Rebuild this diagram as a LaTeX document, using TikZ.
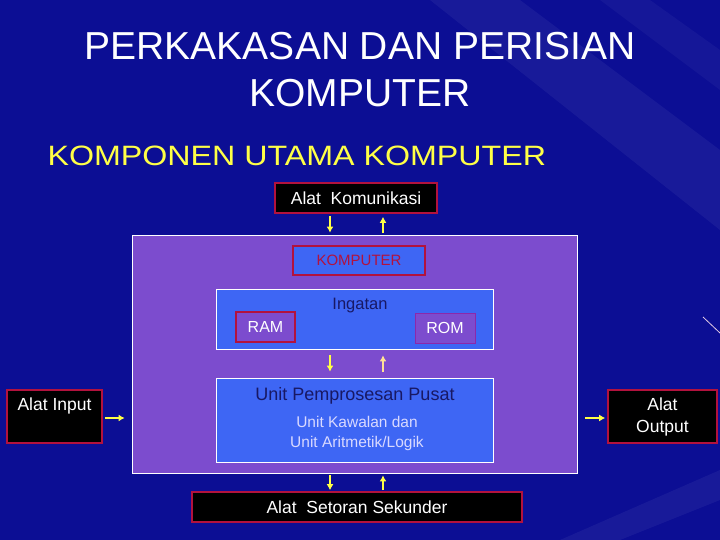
\documentclass[tikz,border=0pt]{standalone}
\usepackage{fontspec}
\setmainfont{Liberation Sans}
\usetikzlibrary{arrows.meta}
\definecolor{bgblue}{RGB}{12,14,148}
\definecolor{slidepurple}{RGB}{124,76,206}
\definecolor{boxblue}{RGB}{62,102,244}
\definecolor{boxred}{RGB}{178,18,62}
\definecolor{navytext}{RGB}{24,24,100}
\definecolor{arrowyellow}{RGB}{255,255,70}
\definecolor{paleyellow}{RGB}{255,225,150}
\definecolor{romborder}{RGB}{140,40,170}

\tikzset{
  blackbox/.style={draw=boxred, line width=1.6pt, fill=black, text=white,
    inner sep=0pt, font=\fontsize{17.5}{22}\selectfont, align=center},
  bluebox/.style={draw=white, line width=0.8pt, fill=boxblue, inner sep=0pt},
  memcell/.style={line width=1.4pt, fill=slidepurple, text=white, font=\fontsize{16}{19}\selectfont,
    minimum width=59pt, minimum height=30pt, inner sep=0pt},
  flowarrow/.style={arrowyellow, line width=1.8pt, -{Latex[length=6pt,width=7pt]}},
}

\begin{document}
\begin{tikzpicture}[x=1pt,y=-1pt]
\useasboundingbox (0,0) rectangle (720,540);
\fill[bgblue] (0,0) rectangle (720,540);
% faint streaks of the slide background
\fill[white, opacity=0.05] (430,0) -- (520,0) -- (720,150) -- (720,230) -- cycle;
\fill[white, opacity=0.04] (600,0) -- (650,0) -- (720,50) -- (720,90) -- cycle;
\fill[white, opacity=0.05] (720,470) -- (560,540) -- (620,540) -- (720,500) -- cycle;
\draw[white!80!violet, line width=0.8pt] (703,317) -- (720,333);

\node[white, font=\fontsize{39}{47}\selectfont, align=center] (title) at (360,70)
  {PERKAKASAN DAN PERISIAN\\KOMPUTER};
\node[arrowyellow, anchor=west, font=\fontsize{28}{32}\selectfont] (subtitle) at (44,156)
  {\scalebox{1.15}[1]{KOMPONEN UTAMA KOMPUTER}};

\node[blackbox, minimum width=162pt, minimum height=30pt] (kom) at (356,198) {Alat\ \ Komunikasi};
\node[draw=white, line width=0.8pt, fill=slidepurple, minimum width=445pt, minimum height=238pt] (komp) at (354.5,354) {};
\node[draw=boxred, line width=1.6pt, fill=boxblue, text=boxred, font=\fontsize{15}{18}\selectfont,
  minimum width=132pt, minimum height=29pt, inner sep=0pt] (kpt) at (359,260.5) {KOMPUTER};

% ingatan
\node[bluebox, minimum width=277pt, minimum height=60pt] (mem) at (354.5,319) {};
\node[navytext, font=\fontsize{16.5}{19}\selectfont] (memtxt) at (360,306) {Ingatan};
\node[memcell, draw=boxred] (ram) at (265.5,327) {RAM};
\node[memcell, draw=romborder, line width=1pt, minimum width=60pt] (rom) at (445,328) {ROM};

% unit pemprosesan pusat
\node[bluebox, minimum width=277pt, minimum height=84pt] (cpu) at (354.5,420) {};
\node[navytext, font=\fontsize{18}{21}\selectfont] (cputxt) at (355,396) {Unit Pemprosesan Pusat};
\node[white!85!blue, font=\fontsize{15.5}{20}\selectfont, align=center] (alutxt) at (357,433)
  {Unit Kawalan dan\\Unit Aritmetik/Logik};

\node[blackbox, minimum width=95pt, minimum height=53pt] (inp) at (54.5,416.5) {};
\node[white, font=\fontsize{17.5}{22}\selectfont] (inptxt) at (54.5,406) {Alat Input};
\node[blackbox, minimum width=109pt, minimum height=53pt] (out) at (662.5,416.5) {Alat\\Output};
\node[blackbox, minimum width=330pt, minimum height=30pt] (sek) at (357,507) {Alat\ \ Setoran Sekunder};

% anak panah
\draw[flowarrow, shorten <=2pt, shorten >=2pt] (kom.south -| 330,0) -- (komp.north -| 330,0);
\draw[flowarrow, shorten <=2pt, shorten >=3pt] (komp.north -| 383,0) -- (kom.south -| 383,0);
\draw[flowarrow, shorten <=6pt, shorten >=6pt] (mem.south -| 330,0) -- (cpu.north -| 330,0);
\draw[flowarrow, paleyellow, shorten <=6pt, shorten >=6pt] (cpu.north -| 383,0) -- (mem.south -| 383,0);
\draw[flowarrow, shorten <=2pt, shorten >=1pt] (komp.south -| 330,0) -- (sek.north -| 330,0);
\draw[flowarrow, shorten <=1pt, shorten >=2pt] (sek.north -| 383,0) -- (komp.south -| 383,0);
\draw[flowarrow, shorten <=2pt, shorten >=7pt] (inp.east |- 0,418) -- (komp.west |- 0,418);
\draw[flowarrow, shorten <=8pt, shorten >=2pt] (komp.east |- 0,418) -- (out.west |- 0,418);
\end{tikzpicture}
\end{document}
